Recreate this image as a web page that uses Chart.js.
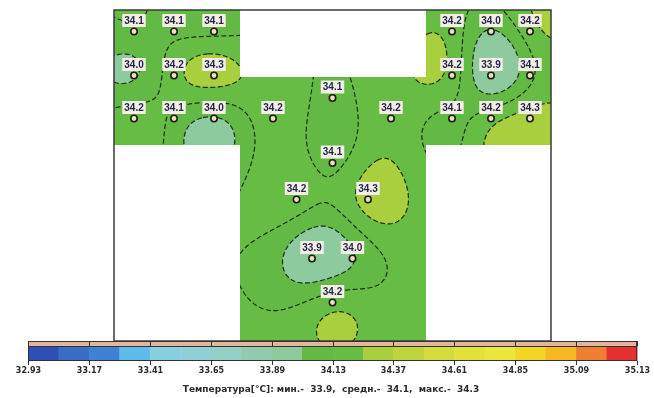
<!DOCTYPE html>
<html>
<head>
<meta charset="utf-8">
<script src="https://cdn.jsdelivr.net/npm/chart.js@4.4.1/dist/chart.umd.min.js"></script>
<style>
  html, body { margin: 0; padding: 0; background: #fff; }
  canvas { display: block; }
</style>
</head>
<body>
<canvas id="c" width="654" height="398"></canvas>
<script>
// Sensor positions on the floor plan (plan units) and measured temperatures, °C
const sensorX = [2.0, 6.0, 10.0, 33.8, 37.7, 41.6,
                 2.0, 6.0, 10.0, 33.8, 37.7, 41.6,
                 2.0, 6.0, 10.0, 15.9, 27.7, 33.8, 37.7, 41.6,
                 21.85, 21.85, 18.25, 25.4, 19.8, 23.85, 21.85];
const sensorY = [2.15, 2.15, 2.15, 2.15, 2.15, 2.15,
                 6.55, 6.55, 6.55, 6.55, 6.55, 6.55,
                 10.85, 10.85, 10.85, 10.85, 10.85, 10.85, 10.85, 10.85,
                 8.8, 15.3, 18.95, 18.95, 24.85, 24.85, 29.25];
const sensorT = [34.1, 34.1, 34.1, 34.2, 34.0, 34.2,
                 34.0, 34.2, 34.3, 34.2, 33.9, 34.1,
                 34.2, 34.1, 34.0, 34.2, 34.2, 34.1, 34.2, 34.3,
                 34.1, 34.1, 34.2, 34.3, 33.9, 34.0, 34.2];

// T-shaped floor outline (plan units)
const floorOutline = [[0, 0], [12.6, 0], [12.6, 6.7], [31.2, 6.7], [31.2, 0], [43.7, 0],
                      [43.7, 13.5], [31.2, 13.5], [31.2, 33.1], [12.6, 33.1], [12.6, 13.5], [0, 13.5]];
const planWidth = 43.7;
const planDepth = 33.1;

// Colour scale: band edges, band colours and the labels under the bar
const bandEdges = [32.93, 33.05, 33.17, 33.29, 33.41, 33.53, 33.65, 33.77, 33.89, 34.01,
                   34.13, 34.25, 34.37, 34.49, 34.61, 34.73, 34.85, 34.97, 35.09, 35.11, 35.13];
const bandColors = ['#2e4fb5', '#3a6cc6', '#3f82d4', '#5cbbe8', '#86cfe0', '#8fd0d6', '#93cfc4',
                    '#90cbb0', '#8dca9e', '#62ba45', '#67bc44', '#a9ce3e', '#bdd43c', '#d3dc3a',
                    '#e3e23a', '#ece63a', '#f3d624', '#f5b722', '#ee7f30', '#e6302f'];
const scaleLabels = ['32.93', '33.17', '33.41', '33.65', '33.89', '34.13', '34.37', '34.61', '34.85', '35.09', '35.13'];
const contourLevels = [34.01, 34.13, 34.25];

// Kriging-style surface: anisotropic Gaussian covariance plus a linear drift
const corrLengthX = 4.2;
const corrLengthY = 5.2;
function buildSurface(xs, ys, vs) {
  const n = xs.length, m = n + 3;
  const K = (dx, dy) => Math.exp(-(dx * dx) / (corrLengthX * corrLengthX) - (dy * dy) / (corrLengthY * corrLengthY));
  const A = [];
  for (let i = 0; i < m; i++) A.push(new Float64Array(m + 1));
  for (let i = 0; i < n; i++) {
    for (let j = 0; j < n; j++) {
      A[i][j] = K(xs[i] - xs[j], ys[i] - ys[j]) + (i === j ? 1e-4 : 0);
    }
    A[i][n] = 1; A[i][n + 1] = xs[i]; A[i][n + 2] = ys[i];
    A[n][i] = 1; A[n + 1][i] = xs[i]; A[n + 2][i] = ys[i];
    A[i][m] = vs[i];
  }
  for (let c = 0; c < m; c++) {
    let p = c;
    for (let r = c + 1; r < m; r++) if (Math.abs(A[r][c]) > Math.abs(A[p][c])) p = r;
    const t = A[c]; A[c] = A[p]; A[p] = t;
    for (let r = 0; r < m; r++) {
      if (r === c) continue;
      const f = A[r][c] / A[c][c];
      if (f === 0) continue;
      for (let k = c; k <= m; k++) A[r][k] -= f * A[c][k];
    }
  }
  const w = [];
  for (let i = 0; i < m; i++) w.push(A[i][m] / A[i][i]);
  return (x, y) => {
    let v = w[n] + w[n + 1] * x + w[n + 2] * y;
    for (let i = 0; i < n; i++) v += w[i] * K(x - xs[i], y - ys[i]);
    return v;
  };
}
const surface = buildSurface(sensorX, sensorY, sensorT);

function bandIndex(v) {
  for (let i = 0; i < bandColors.length; i++) if (v < bandEdges[i + 1]) return Math.max(0, i);
  return bandColors.length - 1;
}
const bandRGB = bandColors.map(h => [parseInt(h.slice(1, 3), 16), parseInt(h.slice(3, 5), 16), parseInt(h.slice(5, 7), 16)]);

function outlinePath(ctx, sx, sy) {
  ctx.beginPath();
  floorOutline.forEach(([x, y], i) => {
    const px = sx.getPixelForValue(x), py = sy.getPixelForValue(y);
    if (i === 0) ctx.moveTo(px, py); else ctx.lineTo(px, py);
  });
  ctx.closePath();
}

// Marching squares, with segments joined into polylines so dashes run continuously
function traceContours(grid, nx, ny, level) {
  const g = (i, j) => grid[j * nx + i];
  const H = (i, j) => j * nx + i;
  const V = (i, j) => nx * ny + j * nx + i;
  const pts = new Map();
  const ptOf = id => {
    if (pts.has(id)) return pts.get(id);
    let p;
    if (id < nx * ny) {
      const i = id % nx, j = Math.floor(id / nx);
      const a = g(i, j), b = g(i + 1, j);
      p = [i + (level - a) / (b - a), j];
    } else {
      const k = id - nx * ny, i = k % nx, j = Math.floor(k / nx);
      const a = g(i, j), b = g(i, j + 1);
      p = [i, j + (level - a) / (b - a)];
    }
    pts.set(id, p);
    return p;
  };
  const segs = [];
  for (let j = 0; j < ny - 1; j++) {
    for (let i = 0; i < nx - 1; i++) {
      const a = g(i, j), b = g(i + 1, j), c = g(i + 1, j + 1), d = g(i, j + 1);
      const idx = (a >= level ? 1 : 0) | (b >= level ? 2 : 0) | (c >= level ? 4 : 0) | (d >= level ? 8 : 0);
      if (idx === 0 || idx === 15) continue;
      const T = H(i, j), B = H(i, j + 1), L = V(i, j), R = V(i + 1, j);
      const mid = (a + b + c + d) / 4 >= level;
      switch (idx) {
        case 1: case 14: segs.push([T, L]); break;
        case 2: case 13: segs.push([T, R]); break;
        case 3: case 12: segs.push([L, R]); break;
        case 4: case 11: segs.push([R, B]); break;
        case 6: case 9: segs.push([T, B]); break;
        case 7: case 8: segs.push([L, B]); break;
        case 5: if (mid) { segs.push([T, R]); segs.push([L, B]); } else { segs.push([T, L]); segs.push([R, B]); } break;
        case 10: if (mid) { segs.push([T, L]); segs.push([R, B]); } else { segs.push([T, R]); segs.push([L, B]); } break;
      }
    }
  }
  const byEdge = new Map();
  segs.forEach((s, k) => s.forEach(e => { if (!byEdge.has(e)) byEdge.set(e, []); byEdge.get(e).push(k); }));
  const used = new Uint8Array(segs.length);
  const lines = [];
  const walk = (start, chain) => {
    let cur = start;
    for (;;) {
      const cand = (byEdge.get(cur) || []).find(k => !used[k]);
      if (cand === undefined) break;
      used[cand] = 1;
      const s = segs[cand];
      cur = s[0] === cur ? s[1] : s[0];
      chain.push(cur);
    }
  };
  for (let k = 0; k < segs.length; k++) {
    if (used[k]) continue;
    used[k] = 1;
    const fwd = [segs[k][0], segs[k][1]];
    walk(segs[k][1], fwd);
    const back = [];
    walk(segs[k][0], back);
    lines.push(back.reverse().concat(fwd).map(ptOf));
  }
  return lines;
}

const fieldPlugin = {
  id: 'field',
  beforeDatasetsDraw(chart) {
    const { ctx, chartArea: a, scales: { x: sx, y: sy } } = chart;
    const W = Math.round(a.right - a.left), Hh = Math.round(a.bottom - a.top);
    const off = document.createElement('canvas');
    off.width = W; off.height = Hh;
    const octx = off.getContext('2d');
    const img = octx.createImageData(W, Hh);
    for (let j = 0; j < Hh; j++) {
      const vy = sy.getValueForPixel(a.top + j + 0.5);
      for (let i = 0; i < W; i++) {
        const vx = sx.getValueForPixel(a.left + i + 0.5);
        const c = bandRGB[bandIndex(surface(vx, vy))];
        const o = (j * W + i) * 4;
        img.data[o] = c[0]; img.data[o + 1] = c[1]; img.data[o + 2] = c[2]; img.data[o + 3] = 255;
      }
    }
    octx.putImageData(img, 0, 0);

    ctx.save();
    outlinePath(ctx, sx, sy);
    ctx.clip();
    ctx.drawImage(off, a.left, a.top);

    // isotherms
    const step = 2;
    const nx = Math.ceil(W / step) + 1, ny = Math.ceil(Hh / step) + 1;
    const grid = new Float64Array(nx * ny);
    for (let j = 0; j < ny; j++) {
      const vy = sy.getValueForPixel(a.top + j * step);
      for (let i = 0; i < nx; i++) grid[j * nx + i] = surface(sx.getValueForPixel(a.left + i * step), vy);
    }
    ctx.strokeStyle = '#1f2d1c';
    ctx.lineWidth = 1.2;
    ctx.setLineDash([5, 2.5]);
    contourLevels.forEach(level => {
      traceContours(grid, nx, ny, level).forEach(line => {
        ctx.beginPath();
        line.forEach(([gx, gy], k) => {
          const px = a.left + gx * step, py = a.top + gy * step;
          if (k === 0) ctx.moveTo(px, py); else ctx.lineTo(px, py);
        });
        ctx.stroke();
      });
    });
    ctx.restore();

    ctx.save();
    ctx.strokeStyle = '#3a3a3a';
    ctx.lineWidth = 1.5;
    ctx.strokeRect(a.left, a.top, a.right - a.left, a.bottom - a.top);
    ctx.restore();
  }
};

const valueLabelPlugin = {
  id: 'valueLabels',
  afterDatasetsDraw(chart) {
    const { ctx } = chart;
    const meta = chart.getDatasetMeta(0);
    ctx.save();
    ctx.font = 'bold 10px "Liberation Sans", Arial, sans-serif';
    ctx.textAlign = 'center';
    ctx.textBaseline = 'middle';
    meta.data.forEach((pt, i) => {
      const text = sensorT[i].toFixed(1);
      const cx = pt.x, cy = pt.y - 11;
      const w = ctx.measureText(text).width + 4;
      ctx.fillStyle = '#f5efe3';
      ctx.fillRect(cx - w / 2, cy - 6.5, w, 13);
      ctx.fillStyle = '#1b2550';
      ctx.fillText(text, cx, cy + 0.5);
    });
    ctx.restore();
  }
};

const colorBarPlugin = {
  id: 'colorBar',
  afterDraw(chart) {
    const { ctx } = chart;
    const left = 28, right = 637, top = 341, sep = 346.5, bottom = 361;
    const bw = (right - left) / bandColors.length;
    ctx.save();
    ctx.fillStyle = '#e3b59d';
    ctx.fillRect(left, top, right - left, sep - top);
    bandColors.forEach((c, i) => {
      ctx.fillStyle = c;
      ctx.fillRect(left + i * bw, sep, bw + 0.5, bottom - sep);
    });
    ctx.strokeStyle = '#333';
    ctx.lineWidth = 1;
    ctx.strokeRect(left + 0.5, top + 0.5, right - left - 1, bottom - top - 1);
    ctx.beginPath();
    ctx.moveTo(left, sep); ctx.lineTo(right, sep);
    ctx.stroke();

    ctx.font = 'bold 8px "DejaVu Sans", sans-serif';
    ctx.textAlign = 'center';
    ctx.textBaseline = 'middle';
    ctx.fillStyle = '#2b2b2b';
    scaleLabels.forEach((t, k) => {
      const x = Math.round(left + k * 2 * bw) + 0.5;
      ctx.beginPath();
      ctx.moveTo(x, top); ctx.lineTo(x, sep);
      ctx.moveTo(x, bottom); ctx.lineTo(x, bottom + 4);
      ctx.stroke();
      ctx.fillText(t, x, 370.5);
    });

    const mn = Math.min(...sensorT), mx = Math.max(...sensorT);
    const avg = sensorT.reduce((s, v) => s + v, 0) / sensorT.length;
    const caption = 'Температура[°C]: мин.-  ' + mn.toFixed(1) + ',  средн.-  ' + avg.toFixed(1) +
                    ',  макс.-  ' + mx.toFixed(1);
    ctx.font = 'bold 9px "DejaVu Sans", sans-serif';
    ctx.fillText(caption, 331, 390);
    ctx.restore();
  }
};

new Chart(document.getElementById('c'), {
  type: 'scatter',
  data: {
    datasets: [{
      data: sensorX.map((x, i) => ({ x, y: sensorY[i] })),
      pointRadius: 3.2,
      pointBorderWidth: 1.6,
      pointBackgroundColor: '#efe1b6',
      pointBorderColor: '#1c1c1c'
    }]
  },
  options: {
    responsive: false,
    animation: false,
    layout: { padding: { left: 114, right: 103, top: 10, bottom: 57 } },
    scales: {
      x: { type: 'linear', min: 0, max: planWidth, display: false },
      y: { type: 'linear', min: 0, max: planDepth, reverse: true, display: false }
    },
    plugins: { legend: { display: false }, tooltip: { enabled: false } }
  },
  plugins: [fieldPlugin, valueLabelPlugin, colorBarPlugin]
});
</script>
</body>
</html>
